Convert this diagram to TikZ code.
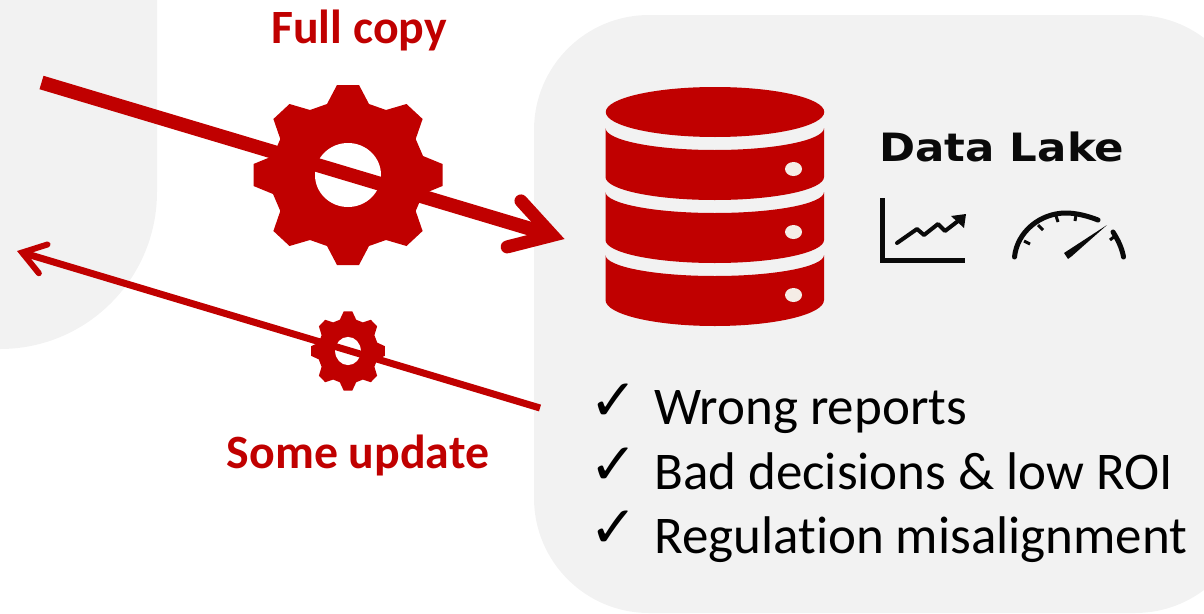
\documentclass[tikz,border=0pt]{standalone}
\usepackage{fontspec}
\setmainfont{Carlito}[Ligatures=NoCommon]
\newfontfamily\dejav{DejaVu Sans}
\usetikzlibrary{arrows.meta}
\definecolor{brandred}{HTML}{C00000}
\definecolor{panelgrey}{HTML}{F2F2F2}
\definecolor{dotcream}{HTML}{F5EDE6}
\definecolor{iconink}{HTML}{0A0A0A}
\tikzset{
  panel/.style={fill=panelgrey,draw=none},
  redtitle/.style={text=brandred,font=\fontsize{47.8}{50}\selectfont\bfseries,inner sep=0pt,anchor=base},
  listline/.style={text=black,font=\fontsize{53}{58}\selectfont,inner sep=0pt,anchor=base west},
  tickmark/.style={text=black,font=\fontsize{58}{62}\selectfont\dejav,inner sep=0pt,anchor=base west},
  band/.style={fill=brandred,draw=none},
  dbdot/.style={fill=dotcream,draw=none},
  bigarrow/.style={draw=brandred,line width=14pt,
    -{Straight Barb[length=40pt,width=48pt,line width=13pt,line cap=round,line join=miter]}},
  smallarrow/.style={draw=brandred,line width=7pt,
    -{Straight Barb[length=22pt,width=30pt,line width=6pt,line cap=round,line join=miter]}},
  iconline/.style={draw=iconink,line width=5pt},
  gearpic/.pic={
    \fill[brandred] (-11,-90) -- (11,-90) -- (21,-71) -- (38,-65) -- (58.5,-71) -- (74.6,-56)
      -- (67.7,-36) -- (75,-19) -- (94.5,-11) -- (94.5,11) -- (75,19) -- (67.7,36) -- (74.6,56)
      -- (58.5,71) -- (38,65) -- (21,71) -- (11,90) -- (-11,90) -- (-21,71) -- (-38,65)
      -- (-58.5,71) -- (-74.6,56) -- (-67.7,36) -- (-75,19) -- (-94.5,11) -- (-94.5,-11)
      -- (-75,-19) -- (-67.7,-36) -- (-74.6,-56) -- (-58.5,-71) -- (-38,-65) -- (-21,-71) -- cycle;
    \fill[white] (0,0) circle[x radius=33pt,y radius=32pt];
  }
}
\begin{document}
\begin{tikzpicture}[x=1pt,y=-1pt]
\useasboundingbox (0,0) rectangle (1204,613);
\begin{scope}
\clip (0,0) rectangle (1204,613);
\fill[panel,rounded corners=157pt] (-200,-200) rectangle (157,349);
\fill[panel,rounded corners=115pt] (534,15) rectangle (1250,613);
\end{scope}

% gears
\pic at (348,175) {gearpic};
\pic[xscale=.39,yscale=.44] at (348,351) {gearpic};

% connectors
\coordinate (fullstart) at (41.5,82.5);
\coordinate (fullend) at (564.5,239);
\coordinate (somestart) at (540,408);
\coordinate (someend) at (17,251);
\draw[bigarrow] (fullstart) -- (fullend);
\draw[smallarrow] (somestart) -- (someend);

% labels
\node[redtitle] (fullcopy) at (359,43) {Full copy};
\node[redtitle] (someupdate) at (358,468) {Some update};

% database
\fill[band] (715,112) circle[x radius=109.25pt,y radius=25pt];
\fill[band] (605.5,128) arc[start angle=180,end angle=360,x radius=109.25pt,y radius=22pt]
  -- (824,177) arc[start angle=0,end angle=-180,x radius=109.25pt,y radius=23pt] -- cycle;
\fill[band] (605.5,192) arc[start angle=180,end angle=360,x radius=109.25pt,y radius=21pt]
  -- (824,240) arc[start angle=0,end angle=-180,x radius=109.25pt,y radius=23pt] -- cycle;
\fill[band] (605.5,255) arc[start angle=180,end angle=360,x radius=109.25pt,y radius=21pt]
  -- (824,300) arc[start angle=0,end angle=-180,x radius=109.25pt,y radius=26pt] -- cycle;
\fill[dbdot] (793.5,169) circle[x radius=8.5pt,y radius=7pt];
\fill[dbdot] (793.5,232) circle[x radius=8.5pt,y radius=7pt];
\fill[dbdot] (793.5,295) circle[x radius=8.5pt,y radius=7pt];

% data lake
\node[inner sep=0pt,anchor=base west,text=iconink,font=\fontsize{39}{42}\selectfont\dejav\bfseries,xscale=1.115] (lake) at (879,161) {Data Lake};

% chart icon
\draw[iconline,line join=miter] (882,198) -- (882,260) -- (965,260);
\draw[iconink,line width=4pt,line cap=round,line join=round] (897,243) -- (917,229) -- (924,235) -- (938,224) -- (945,231) -- (962,218);
\fill[iconink] (966,214) -- (951,216) -- (964,228) -- cycle;

% gauge icon
\draw[iconline,line cap=round] (1014.5,257) .. controls (1017,232) and (1040,213) .. (1066,213) .. controls (1076,213) and (1088,216) .. (1098,220);
\draw[iconline,line cap=round] (1113,232) .. controls (1118,240) and (1122,248) .. (1123.5,257);
\draw[iconink,line width=3pt] (1024,241) -- (1030,244) (1038,225) -- (1043,230) (1056,216) -- (1058,222) (1076,215) -- (1075,221) (1115,236) -- (1110,240);
\fill[iconink] (1107,225) -- (1064,253) -- (1068,259) -- (1072,256) -- cycle;

% list
\node[tickmark] (t1) at (589,420) {✓};
\node[tickmark] (t2) at (589,484) {✓};
\node[tickmark] (t3) at (589,547) {✓};
\node[listline] (l1) at (654,424) {Wrong reports};
\node[listline] (l2) at (654,489) {Bad decisions \& low ROI};
\node[listline] (l3) at (654,553) {Regulation misalignment};
\end{tikzpicture}
\end{document}
